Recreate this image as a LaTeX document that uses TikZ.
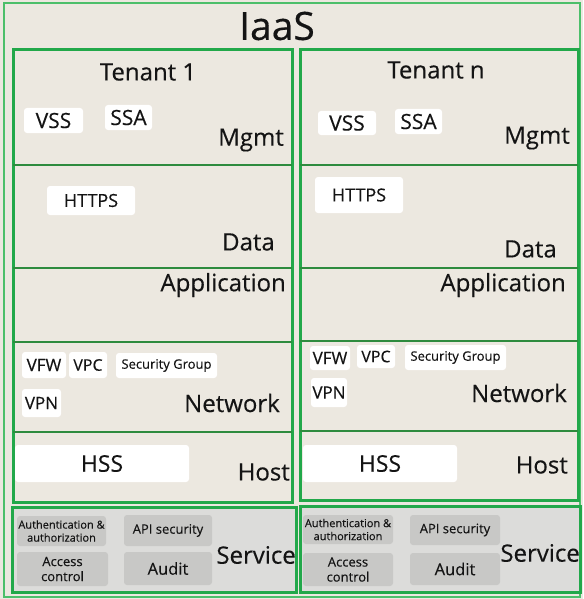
\documentclass[tikz,border=0pt]{standalone}
\usepackage{fontspec}
\setmainfont{Open Sans}[FakeBold=0.35]
\definecolor{bg}{HTML}{ECE8E0}
\definecolor{grn}{HTML}{22A84A}
\definecolor{lgrn}{HTML}{4CBF6A}
\definecolor{dgrn}{HTML}{2E8B3E}
\definecolor{svc}{HTML}{DCDCDA}
\definecolor{gb}{HTML}{C8C8C6}
\definecolor{txt}{HTML}{141414}
\tikzset{
  tenant/.style={draw=grn, line width=3pt, inner sep=0pt},
  svcbox/.style={draw=grn, line width=3pt, fill=svc, inner sep=0pt},
  sep/.style={draw=dgrn, line width=1.6pt},
  wbox/.style={fill=white, rounded corners=3pt, inner sep=0pt, text=txt},
  gbox/.style={fill=gb, rounded corners=3pt, inner sep=0pt, text=txt, align=center},
  lab/.style={inner sep=0pt, text=txt, font=\fontsize{24}{28}\selectfont},
}
\begin{document}
\begin{tikzpicture}[x=1pt,y=-1pt]
\useasboundingbox (0,0) rectangle (583,599);
\fill[bg] (0,0) rectangle (583,599);
\draw[lgrn, line width=2.5pt] (4,3) rectangle (580,597);
\node[inner sep=0pt, text=txt, font=\fontsize{39}{44}\selectfont] (iaas) at (277,26) {IaaS};

% Tenant boxes
\node[tenant, minimum width=279pt, minimum height=452pt] (t1) at (152.5,276) {};
\node[tenant, minimum width=278pt, minimum height=450pt] (tn) at (439,275) {};
% section lines
\foreach \y in {165,268,342,432} \draw[sep] (13,\y) -- (292,\y);
\foreach \y in {165,268,341,431} \draw[sep] (300,\y) -- (578,\y);

% Tenant 1
\node[lab] (tt1) at (148,72) {Tenant 1};
\node[wbox, minimum width=59pt, minimum height=25pt, font=\fontsize{21}{24}\selectfont] (vss1) at (53.5,120.5) {VSS};
\node[wbox, minimum width=47pt, minimum height=25pt, font=\fontsize{21}{24}\selectfont] (ssa1) at (128.5,117.5) {SSA};
\node[lab, anchor=east] (mg1) at (284,140) {Mgmt};
\node[wbox, minimum width=88pt, minimum height=29pt, font=\fontsize{18}{21}\selectfont] (https1) at (91,200.5) {HTTPS};
\node[lab, anchor=east] (da1) at (275,242) {Data};
\node[lab, anchor=east] (ap1) at (286,285) {Application};
\node[wbox, minimum width=44pt, minimum height=26pt, font=\fontsize{17}{20}\selectfont] (vfw1) at (44,365) {VFW};
\node[wbox, minimum width=38pt, minimum height=26pt, font=\fontsize{16}{19}\selectfont] (vpc1) at (88,365) {VPC};
\node[wbox, minimum width=101pt, minimum height=25pt, font=\fontsize{13}{15}\selectfont] (sg1) at (166.5,365.5) {Security Group};
\node[wbox, minimum width=39pt, minimum height=28pt, font=\fontsize{17}{20}\selectfont] (vpn1) at (41.5,403) {VPN};
\node[lab, anchor=east] (nw1) at (280,403) {Network};
\node[wbox, minimum width=174pt, minimum height=37pt, font=\fontsize{23}{26}\selectfont] (hss1) at (102,463.5) {HSS};
\node[lab, anchor=east] (ho1) at (290,472) {Host};

\node[svcbox, minimum width=284pt, minimum height=85pt] (s1) at (154,549.5) {};
\node[gbox, minimum width=89pt, minimum height=30pt, font=\fontsize{11}{13}\selectfont] (au1) at (61.5,531) {Authentication \&\\authorization};
\node[gbox, minimum width=88pt, minimum height=31pt, font=\fontsize{13}{15}\selectfont] (api1) at (168,530.5) {API security};
\node[gbox, minimum width=91pt, minimum height=34pt, font=\fontsize{13}{15}\selectfont] (ac1) at (62.5,569) {Access\\control};
\node[gbox, minimum width=88pt, minimum height=33pt, font=\fontsize{16.5}{19}\selectfont] (ad1) at (168,568.5) {Audit};
\node[lab, anchor=east] (sv1) at (296,555) {Service};

% Tenant n
\node[lab] (ttn) at (436,70) {Tenant n};
\node[wbox, minimum width=58pt, minimum height=24pt, font=\fontsize{21}{24}\selectfont] (vssn) at (347,123) {VSS};
\node[wbox, minimum width=47pt, minimum height=25pt, font=\fontsize{21}{24}\selectfont] (ssan) at (418.5,121.5) {SSA};
\node[lab, anchor=east] (mgn) at (570,138) {Mgmt};
\node[wbox, minimum width=88pt, minimum height=36pt, font=\fontsize{18}{21}\selectfont] (httpsn) at (359,195) {HTTPS};
\node[lab, anchor=east] (dan) at (557,249) {Data};
\node[lab, anchor=east] (apn) at (566,285) {Application};
\node[wbox, minimum width=40pt, minimum height=24pt, font=\fontsize{17}{20}\selectfont] (vfwn) at (330,358) {VFW};
\node[wbox, minimum width=38pt, minimum height=23pt, font=\fontsize{16}{19}\selectfont] (vpcn) at (376,356.5) {VPC};
\node[wbox, minimum width=101pt, minimum height=25pt, font=\fontsize{13}{15}\selectfont] (sgn) at (455.5,357.5) {Security Group};
\node[wbox, minimum width=36pt, minimum height=29pt, font=\fontsize{17}{20}\selectfont] (vpnn) at (329,392.5) {VPN};
\node[lab, anchor=east] (nwn) at (567,393) {Network};
\node[wbox, minimum width=154pt, minimum height=37pt, font=\fontsize{23}{26}\selectfont] (hssn) at (380,463.5) {HSS};
\node[lab, anchor=east] (hon) at (568,465) {Host};

\node[svcbox, minimum width=280pt, minimum height=86pt] (sn) at (440,549) {};
\node[gbox, minimum width=90pt, minimum height=29pt, font=\fontsize{11}{13}\selectfont] (aun) at (348,529.5) {Authentication \&\\authorization};
\node[gbox, minimum width=90pt, minimum height=30pt, font=\fontsize{13}{15}\selectfont] (apin) at (455,530) {API security};
\node[gbox, minimum width=90pt, minimum height=33pt, font=\fontsize{13}{15}\selectfont] (acn) at (348,569.5) {Access\\control};
\node[gbox, minimum width=90pt, minimum height=32pt, font=\fontsize{16.5}{19}\selectfont] (adn) at (455,569) {Audit};
\node[lab, anchor=east] (svn) at (580,553) {Service};
\end{tikzpicture}
\end{document}
